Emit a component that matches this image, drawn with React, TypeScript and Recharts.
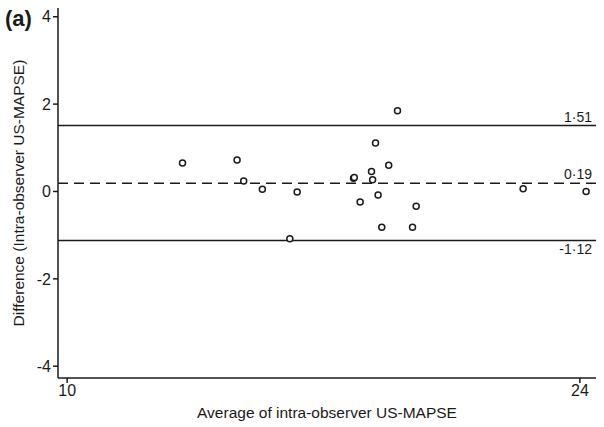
import {
  ScatterChart,
  Scatter,
  XAxis,
  YAxis,
  ReferenceLine,
} from "recharts";

// average of the two measurements (x) and their difference (y)
const averages = [
  13.15, 14.64, 14.82, 15.33, 16.28, 16.08, 19.02, 18.42, 18.78, 18.31,
  17.82, 17.84, 18.34, 18.0, 18.49, 19.53, 18.59, 19.43, 22.45, 24.17,
];
const differences = [
  0.65, 0.72, 0.24, 0.05, -0.01, -1.08, 1.85, 1.11, 0.6, 0.46,
  0.3, 0.32, 0.27, -0.24, -0.08, -0.34, -0.82, -0.82, 0.06, 0.0,
];

const meanDiff = 0.19;
const upperLimit = 1.51;
const lowerLimit = -1.12;

const xTicks = [10, 24];
const yTicks = [-4, -2, 0, 2, 4];

const points = averages.map((x, i) => ({ x, y: differences[i] }));

const FONT = "'Liberation Sans', Arial, sans-serif";
const INK = "#1a1a1a";

const fmt = (v: number) => v.toFixed(2).replace(".", "·");

function Ring(props: any) {
  return (
    <circle
      cx={props.cx}
      cy={props.cy}
      r={3}
      fill="#fff"
      stroke={INK}
      strokeWidth={1.5}
    />
  );
}

export default function App() {
  return (
    <div
      style={{
        position: "absolute",
        left: 0,
        top: 0,
        width: 604,
        height: 427,
        background: "#fff",
        fontFamily: FONT,
      }}
    >
      <div
        style={{
          position: "absolute",
          left: 5,
          top: 6,
          fontSize: 22,
          fontWeight: "bold",
          color: INK,
        }}
      >
        (a)
      </div>
      <ScatterChart
        width={604}
        height={427}
        margin={{ top: 8, right: 8, bottom: 0, left: 0 }}
      >
        <XAxis
          type="number"
          dataKey="x"
          domain={[9.75, 24.44]}
          ticks={xTicks}
          allowDataOverflow
          height={49}
          stroke={INK}
          strokeWidth={1.5}
          tickSize={5}
          tick={{ fill: INK, fontSize: 16, fontFamily: FONT }}
          label={{
            value: "Average of intra-observer US-MAPSE",
            position: "insideBottom",
            offset: 9,
            fill: INK,
            fontSize: 15.5,
            fontFamily: FONT,
          }}
        />
        <YAxis
          type="number"
          dataKey="y"
          domain={[-4.27, 4.2]}
          ticks={yTicks}
          allowDataOverflow
          width={58}
          stroke={INK}
          strokeWidth={1.5}
          tickSize={5}
          tick={{ fill: INK, fontSize: 16, fontFamily: FONT }}
          label={{
            value: "Difference (Intra-observer US-MAPSE)",
            angle: -90,
            position: "insideLeft",
            offset: 18,
            style: { textAnchor: "middle" },
            fill: INK,
            fontSize: 15.5,
            fontFamily: FONT,
          }}
        />
        <ReferenceLine
          y={upperLimit}
          stroke={INK}
          strokeWidth={1.5}
          label={{
            value: fmt(upperLimit),
            position: "insideBottomRight",
            offset: 4,
            fill: INK,
            fontSize: 14,
            fontFamily: FONT,
          }}
        />
        <ReferenceLine
          y={meanDiff}
          stroke={INK}
          strokeWidth={1.5}
          strokeDasharray="10 6"
          label={{
            value: fmt(meanDiff),
            position: "insideBottomRight",
            offset: 4,
            fill: INK,
            fontSize: 14,
            fontFamily: FONT,
          }}
        />
        <ReferenceLine
          y={lowerLimit}
          stroke={INK}
          strokeWidth={1.5}
          label={{
            value: fmt(lowerLimit),
            position: "insideTopRight",
            offset: 4,
            fill: INK,
            fontSize: 14,
            fontFamily: FONT,
          }}
        />
        <Scatter data={points} shape={<Ring />} isAnimationActive={false} />
      </ScatterChart>
    </div>
  );
}
